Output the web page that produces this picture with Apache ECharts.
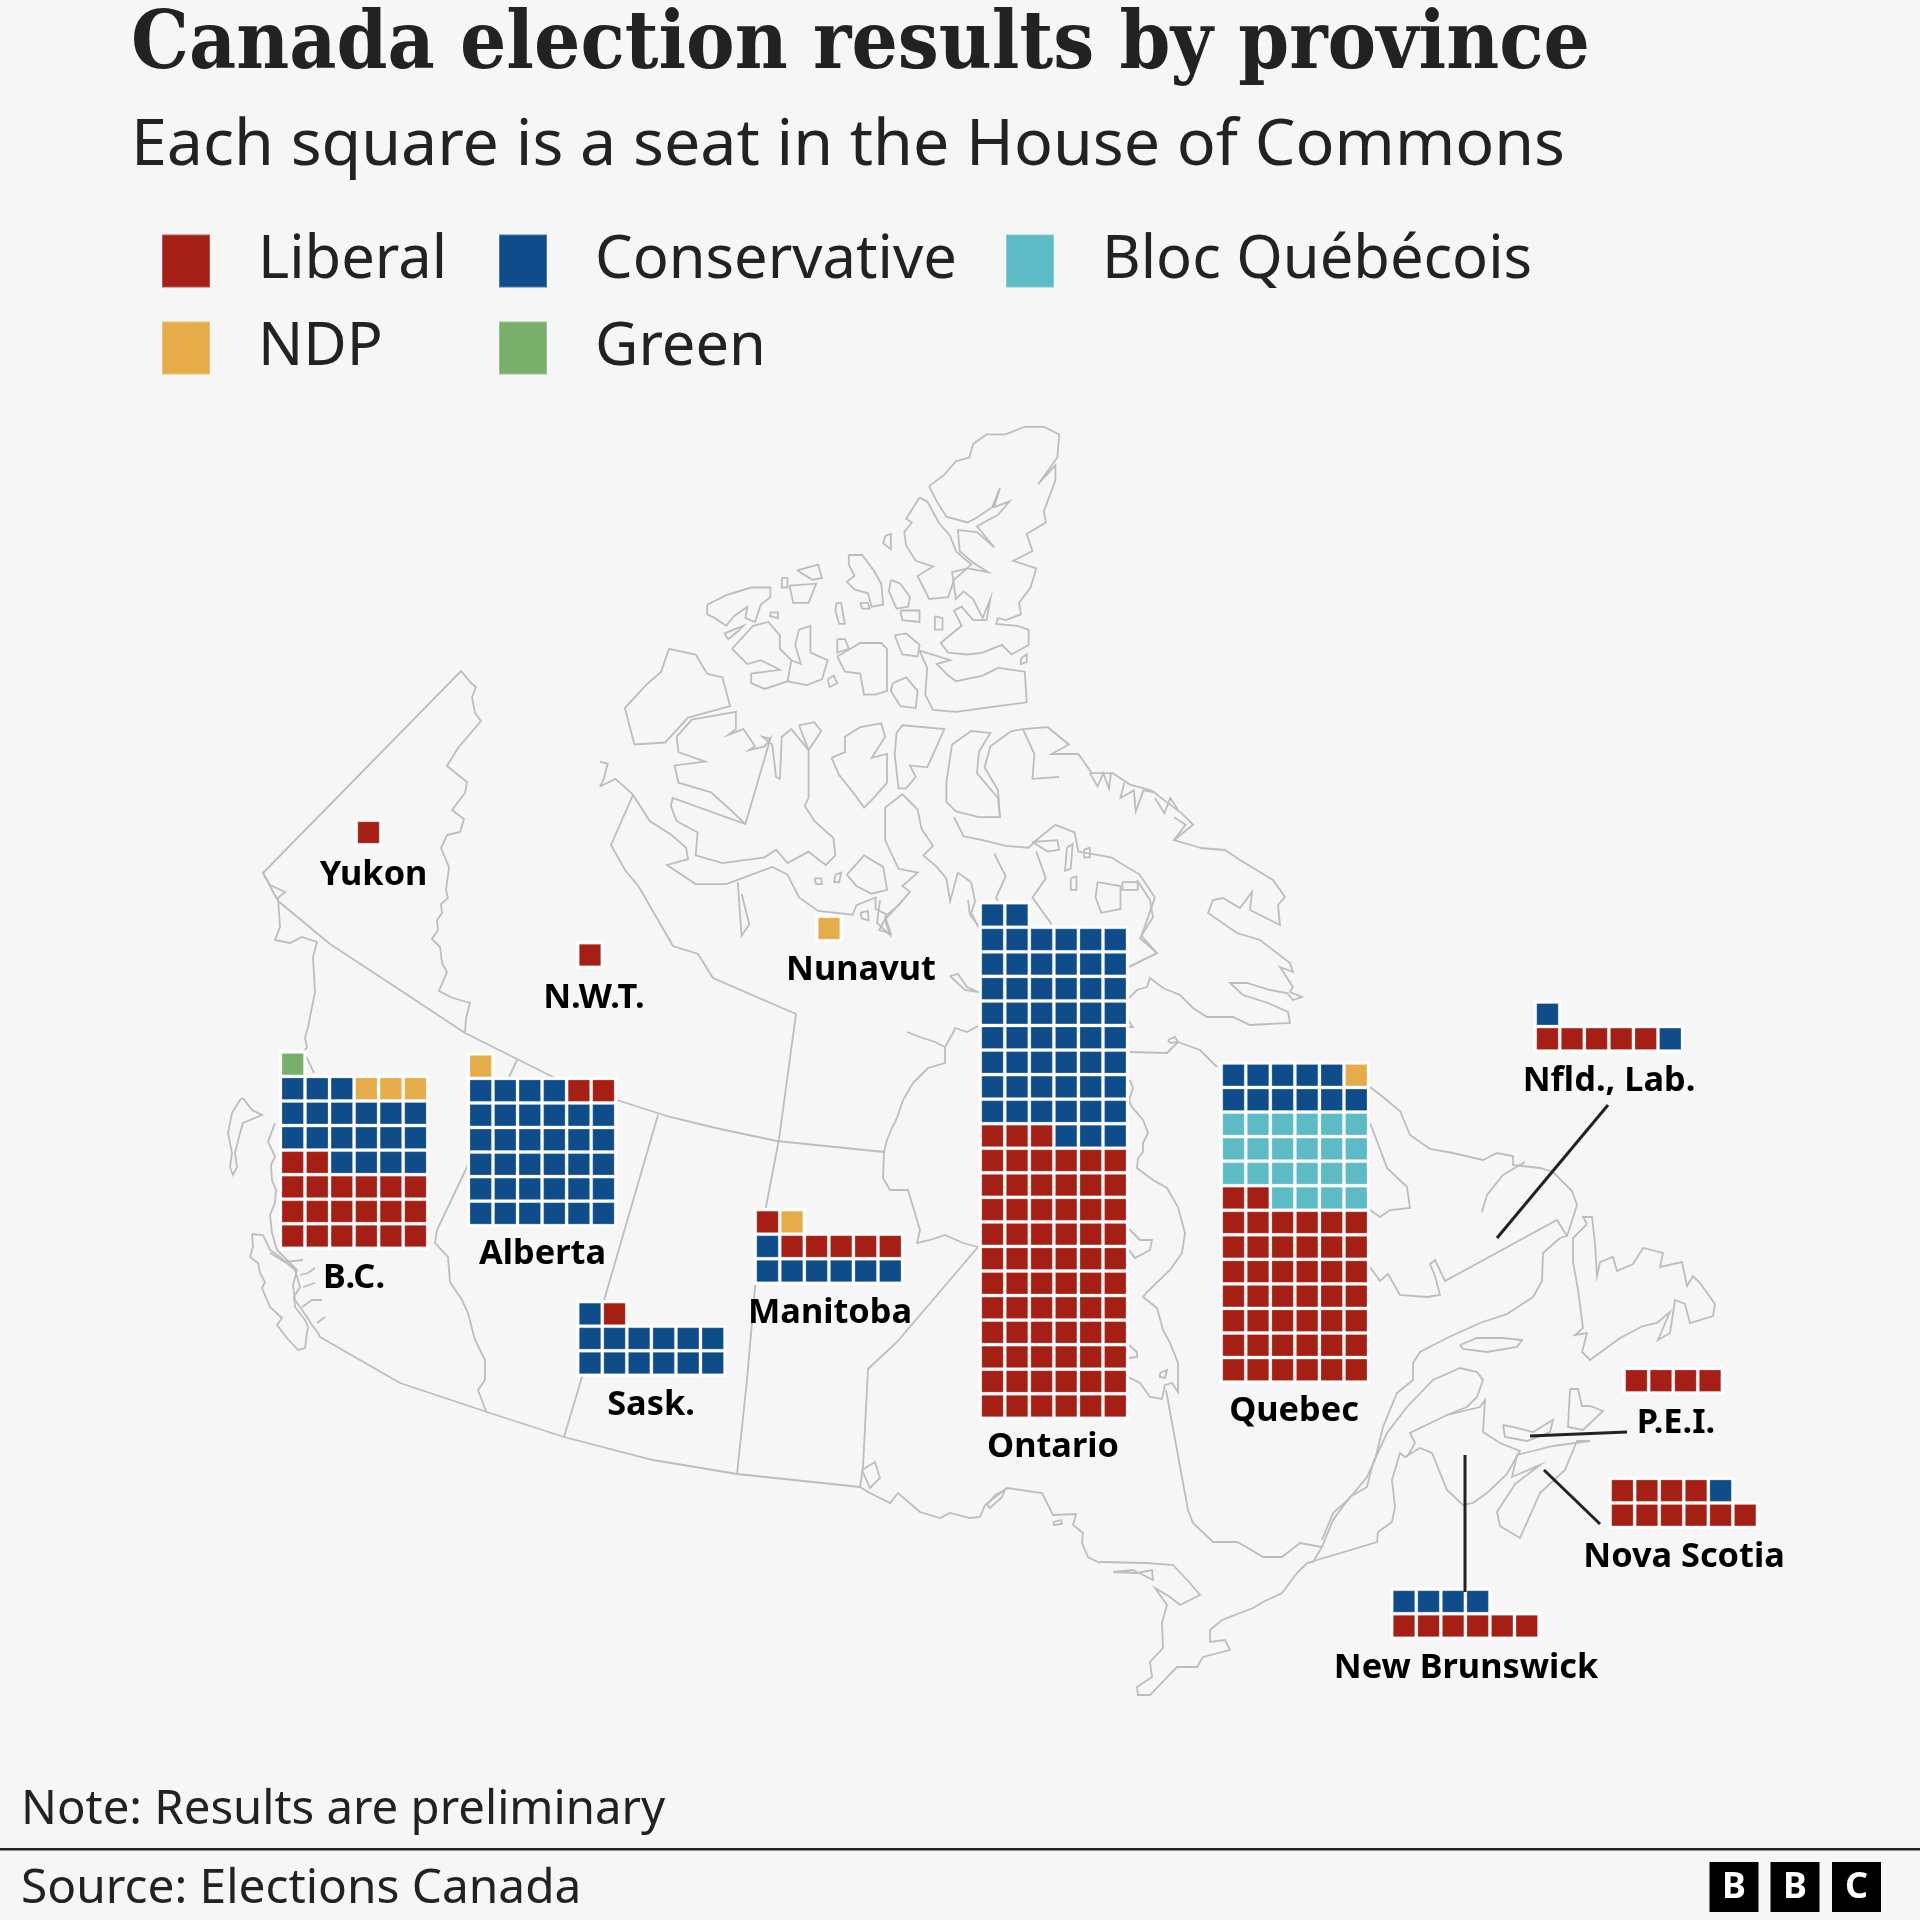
<!DOCTYPE html>
<html>
<head>
<meta charset="utf-8">
<title>Canada election results by province</title>
<script src="https://cdn.jsdelivr.net/npm/echarts@6/dist/echarts.min.js"></script>
<style>
  html, body { margin: 0; padding: 0; background: #f6f6f6; }
  #chart { width: 1920px; height: 1920px; }
</style>
</head>
<body>
<div id="chart"></div>
<script>
// seats per province
const provinces = ['Yukon', 'N.W.T.', 'Nunavut', 'B.C.', 'Alberta', 'Sask.', 'Manitoba', 'Ontario', 'Quebec', 'Nfld., Lab.', 'P.E.I.', 'Nova Scotia', 'New Brunswick'];
const liberal = [1, 1, 0, 20, 2, 1, 6, 69, 44, 5, 4, 10, 6];
const conservative = [0, 0, 0, 19, 34, 13, 7, 53, 11, 2, 0, 1, 4];
const bloc = [0, 0, 0, 0, 0, 0, 0, 0, 22, 0, 0, 0, 0];
const ndp = [0, 0, 1, 3, 1, 0, 1, 0, 1, 0, 0, 0, 0];
const green = [0, 0, 0, 1, 0, 0, 0, 0, 0, 0, 0, 0, 0];

const partyNames = ['Liberal', 'Conservative', 'Bloc Québécois', 'NDP', 'Green'];
const partySeats = [liberal, conservative, bloc, ndp, green];
const partyColors = ['#a61f14', '#0f4d8a', '#5dbbc6', '#e6ac4a', '#78af6b'];

// centre of the bottom-left square of each waffle, same order as provinces
const anchorX = [368.5, 590, 829, 292.7, 480.7, 590, 767.5, 992.5, 1233.5, 1547.5, 1636.4, 1622.4, 1404];
const anchorY = [832.5, 955, 928.5, 1236, 1213.4, 1363, 1271, 1406, 1369.8, 1038.8, 1380.7, 1515.2, 1626];
const labelX = [373.5, 594, 861, 354, 542.5, 651, 830, 1053, 1294, 1609, 1676, 1684, 1466];
const labelY = [875, 998.5, 970, 1278, 1254, 1405, 1313, 1447, 1411, 1081, 1423.5, 1557, 1668];
const PITCH = 24.55;
const COLUMNS = 6;

// leader lines from label to province
const leaders = [
  [[1608, 1105], [1497, 1238]],
  [[1627, 1432], [1530, 1436]],
  [[1600, 1524], [1544, 1470]],
  [[1465, 1455], [1465, 1592]]
];

// base map
const borders = [
  // yukon, alaska, nwt
  [[278, 901], [263, 873], [461, 671], [471, 683], [476, 687], [472, 697], [475, 713], [481, 721], [458, 748], [447, 766], [467, 782], [465, 793], [452, 810], [464, 819], [460, 832], [447, 835], [441, 848], [449, 867], [446, 890], [448, 898], [441, 904], [442, 913], [437, 920], [438, 930], [432, 939], [440, 947], [442, 963], [447, 972], [439, 991], [453, 998], [470, 1003], [466, 1018], [465, 1033]],
  // 60th parallel
  [[278, 901], [330, 944], [400, 990], [465, 1033], [553, 1077], [617, 1100], [670, 1117], [720, 1129], [777, 1141], [884, 1152]],
  // panhandle and bc coast
  [[263, 873], [270, 885], [285, 892], [278, 898], [280, 927], [275, 940], [290, 943], [302, 937], [317, 942], [313, 957], [315, 992], [308, 1027], [305, 1038], [307, 1047], [303, 1053], [307, 1058], [314, 1073]],
  [[275, 1123], [268, 1142], [272, 1150], [275, 1157], [271, 1165], [272, 1180], [276, 1190], [275, 1203], [270, 1215], [272, 1233], [277, 1250], [287, 1260], [297, 1270], [293, 1285], [295, 1300], [307, 1317], [312, 1325], [318, 1333], [320, 1337]],
  [[270, 1253], [285, 1262], [303, 1260]],
  [[300, 1275], [308, 1273], [315, 1268]],
  [[303, 1287], [315, 1283]],
  [[302, 1307], [312, 1300], [322, 1300]],
  [[317, 1323], [325, 1317]],
  // vancouver island, haida gwaii
  [[252, 1234], [253, 1247], [250, 1257], [258, 1263], [260, 1273], [265, 1282], [262, 1288], [270, 1307], [282, 1318], [277, 1325], [287, 1338], [298, 1350], [305, 1348], [307, 1333], [308, 1327], [305, 1320], [295, 1307], [294, 1297], [300, 1287], [295, 1270], [280, 1257], [270, 1250], [263, 1235], [252, 1234]],
  [[243, 1098], [240, 1100], [232, 1113], [228, 1133], [232, 1153], [230, 1167], [233, 1175], [237, 1167], [235, 1153], [240, 1133], [243, 1123], [262, 1115], [252, 1110], [243, 1098]],
  // bc-alberta
  [[517, 1060], [467, 1167], [437, 1230], [435, 1243], [448, 1257], [450, 1282], [462, 1300], [468, 1313], [475, 1340], [485, 1360], [485, 1380], [478, 1390], [486, 1411]],
  // 49th parallel
  [[320, 1337], [400, 1383], [487, 1412], [564, 1437], [653, 1460], [737, 1474], [860, 1487]],
  // alberta-sask, sask-manitoba
  [[658, 1115], [605, 1297], [582, 1377], [564, 1437]],
  [[779, 1139], [766, 1207], [755, 1287], [747, 1380], [737, 1474]],
  // nwt-nunavut
  [[633, 795], [611, 845], [625, 870], [639, 887], [673, 946], [698, 954], [713, 978], [796, 1014], [779, 1139]],
  // manitoba-ontario, hudson bay west
  [[978, 1247], [897, 1342], [868, 1369], [863, 1467], [860, 1487]],
  [[978, 1247], [963, 1243], [945, 1235], [930, 1240], [917, 1243], [920, 1230], [908, 1190], [890, 1190], [883, 1178], [884, 1152], [887, 1140], [892, 1128], [897, 1118], [903, 1100], [913, 1083], [928, 1068], [945, 1063], [945, 1047], [935, 1042], [920, 1037], [907, 1032]],
  [[945, 1047], [953, 1033], [955, 1028], [967, 1032], [978, 1026]],
  [[950, 976], [958, 974], [967, 987], [978, 992], [965, 990], [950, 976]],
  [[880, 900], [877, 923], [890, 935], [885, 920], [903, 900]],
  [[968, 900], [970, 915], [978, 925]],
  // james bay
  [[1129, 1100], [1132, 1107], [1143, 1120], [1148, 1133], [1143, 1143], [1143, 1152], [1138, 1158], [1137, 1168], [1153, 1180], [1167, 1188], [1178, 1207], [1185, 1233], [1182, 1253], [1170, 1270], [1147, 1292], [1143, 1297], [1157, 1308], [1163, 1330], [1170, 1343], [1178, 1363], [1178, 1392], [1172, 1383], [1165, 1385], [1162, 1399], [1150, 1397], [1140, 1383], [1128, 1377]],
  [[1129, 1345], [1137, 1352], [1137, 1357], [1129, 1358]],
  [[1160, 1373], [1167, 1370], [1165, 1378], [1160, 1377], [1160, 1373]],
  [[1129, 1229], [1140, 1240], [1152, 1240], [1150, 1250], [1135, 1258], [1129, 1250]],
  // quebec-ontario and st lawrence south
  [[1166, 1390], [1188, 1510], [1193, 1523], [1213, 1542], [1237, 1542], [1248, 1548], [1263, 1557], [1282, 1557], [1300, 1543], [1322, 1547], [1313, 1562], [1307, 1563], [1377, 1542], [1378, 1532], [1392, 1522], [1395, 1507], [1392, 1480], [1400, 1453], [1405, 1457], [1420, 1448], [1432, 1453], [1447, 1490], [1463, 1505], [1473, 1503], [1487, 1493], [1507, 1474], [1520, 1451], [1500, 1443], [1483, 1432], [1485, 1400], [1480, 1407], [1447, 1415], [1410, 1433], [1415, 1443], [1407, 1457]],
  [[1322, 1547], [1333, 1520], [1350, 1497], [1367, 1487], [1373, 1463], [1387, 1433], [1407, 1407], [1433, 1380], [1460, 1368], [1477, 1372], [1483, 1380], [1477, 1397], [1467, 1407], [1447, 1415]],
  [[1322, 1540], [1333, 1513], [1348, 1500], [1367, 1477], [1375, 1460], [1383, 1427], [1397, 1393], [1413, 1380], [1413, 1363], [1420, 1352], [1447, 1338], [1480, 1323], [1507, 1314], [1533, 1297], [1542, 1281], [1543, 1253], [1560, 1238], [1567, 1236], [1557, 1220], [1445, 1281], [1435, 1260], [1430, 1264], [1435, 1276], [1440, 1295], [1427, 1297], [1400, 1295], [1388, 1274], [1380, 1281], [1370, 1267]],
  // labrador
  [[1567, 1236], [1577, 1205], [1572, 1191], [1553, 1172], [1540, 1168], [1513, 1165], [1513, 1156], [1497, 1153], [1483, 1160], [1453, 1153], [1430, 1149], [1410, 1135], [1400, 1111], [1383, 1097], [1370, 1087]],
  [[1370, 1123], [1380, 1149], [1387, 1168], [1407, 1187], [1410, 1208], [1390, 1210], [1380, 1217], [1370, 1210]],
  [[1482, 1212], [1487, 1195], [1503, 1175], [1525, 1162]],
  // anticosti, newfoundland, pei, cape breton, nova scotia
  [[1460, 1345], [1477, 1338], [1503, 1338], [1522, 1340], [1517, 1347], [1487, 1352], [1463, 1349], [1460, 1345]],
  [[1587, 1224], [1573, 1238], [1573, 1262], [1578, 1290], [1583, 1328], [1575, 1335], [1587, 1333], [1582, 1352], [1590, 1360], [1620, 1338], [1643, 1326], [1657, 1323], [1670, 1312], [1658, 1340], [1670, 1333], [1675, 1300], [1685, 1304], [1690, 1323], [1713, 1316], [1715, 1304], [1700, 1283], [1693, 1276], [1687, 1286], [1682, 1262], [1660, 1267], [1663, 1253], [1643, 1248], [1633, 1264], [1617, 1271], [1613, 1257], [1600, 1262], [1597, 1276], [1595, 1243], [1592, 1217], [1583, 1217], [1587, 1224]],
  [[1503, 1425], [1505, 1437], [1527, 1441], [1550, 1432], [1553, 1420], [1533, 1432], [1513, 1427], [1503, 1425]],
  [[1570, 1389], [1568, 1427], [1583, 1430], [1603, 1411], [1590, 1406], [1582, 1406], [1578, 1389], [1570, 1389]],
  [[1590, 1441], [1577, 1441], [1565, 1470], [1540, 1493], [1520, 1538], [1500, 1526], [1497, 1512], [1515, 1484], [1540, 1465], [1512, 1477], [1517, 1455], [1533, 1451], [1553, 1446], [1590, 1441]],
  // southern ontario
  [[1100, 1563], [1088, 1557], [1082, 1543], [1083, 1533], [1073, 1525], [1076, 1514], [1053, 1515], [1042, 1493], [1007, 1488], [985, 1505], [980, 1517], [970, 1518], [950, 1513], [940, 1518], [920, 1512], [898, 1493], [890, 1503], [870, 1493], [860, 1487]],
  [[1100, 1562], [1147, 1563], [1173, 1565], [1190, 1583], [1200, 1595], [1180, 1605], [1170, 1597], [1155, 1588], [1167, 1605], [1162, 1623], [1163, 1648], [1150, 1662], [1152, 1677], [1137, 1687], [1138, 1695], [1150, 1695], [1177, 1667], [1197, 1667], [1203, 1657], [1230, 1650], [1225, 1640], [1210, 1642], [1210, 1630], [1222, 1620], [1253, 1608], [1263, 1602], [1282, 1593], [1297, 1573], [1307, 1563]],
  [[1113, 1572], [1133, 1570], [1153, 1580], [1152, 1570], [1137, 1573], [1113, 1572]],
  [[1053, 1522], [1061, 1520], [1062, 1524], [1054, 1525], [1053, 1522]],
  [[987, 1505], [995, 1495], [1005, 1490], [1002, 1497], [990, 1508], [987, 1505]],
  [[862, 1470], [875, 1462], [880, 1478], [870, 1488], [862, 1470]],
  // ungava and foxe
  [[1129, 998], [1137, 990], [1147, 987], [1150, 978], [1163, 988], [1180, 995], [1193, 1008], [1207, 1017], [1233, 1017], [1250, 1025], [1290, 1023], [1288, 1012], [1268, 1003], [1243, 995], [1230, 983], [1247, 983], [1270, 990], [1287, 993], [1293, 1000], [1302, 997], [1290, 992], [1293, 987], [1280, 967], [1293, 972], [1290, 963], [1260, 940], [1237, 933], [1208, 913], [1213, 900], [1223, 898], [1240, 908], [1252, 892], [1250, 910], [1280, 925], [1278, 905], [1285, 897], [1273, 880], [1240, 860], [1225, 850], [1200, 848]],
  [[1130, 1052], [1167, 1053], [1178, 1042], [1200, 1050], [1217, 1067]],
  [[1168, 1040], [1175, 1037], [1178, 1042], [1170, 1043], [1168, 1040]],
  [[1129, 967], [1157, 953], [1140, 938], [1153, 917], [1150, 900], [1137, 880]],
  [[1128, 1020], [1133, 1027], [1128, 1027]],
  [[1130, 1080], [1133, 1088], [1129, 1100]]
];

// arctic islands traced in crop pixels of the 600,400 crop (2.613x)
const arcticCrop = [
  [[860, 225], [900, 195], [930, 160], [965, 150], [975, 115], [1010, 90], [1060, 90], [1110, 70], [1160, 70], [1200, 90], [1195, 150], [1145, 220], [1190, 170], [1190, 210], [1160, 290], [1165, 320], [1115, 350], [1130, 395], [1080, 420], [1140, 440], [1125, 490], [1095, 530], [1100, 560], [1060, 575], [1040, 570], [1035, 585], [1090, 590], [1120, 600], [1120, 640], [1075, 665], [1050, 640], [1000, 660], [960, 665], [910, 660], [890, 635], [920, 610], [945, 590], [925, 550], [945, 540], [975, 575], [1010, 575], [1020, 520], [1000, 570], [975, 520], [950, 500], [930, 520], [920, 450], [960, 440], [1015, 450], [975, 425], [940, 395], [935, 340], [985, 345], [1030, 385], [985, 330], [1040, 300], [1070, 265], [1030, 280], [1045, 230], [1025, 280], [980, 310], [960, 320], [905, 305], [880, 265], [860, 225]],
  [[835, 255], [855, 265], [885, 320], [915, 355], [930, 395], [970, 430], [925, 470], [910, 515], [860, 520], [830, 460], [870, 435], [825, 420], [800, 380], [795, 345], [815, 320], [800, 310], [835, 255]],
  [[745, 355], [760, 350], [760, 390], [740, 375], [745, 355]],
  [[650, 405], [685, 405], [715, 445], [735, 480], [740, 535], [710, 540], [700, 505], [665, 495], [645, 475], [665, 460], [650, 430], [650, 405]],
  [[760, 470], [785, 480], [810, 515], [805, 540], [775, 545], [755, 500], [760, 470]],
  [[680, 530], [700, 530], [705, 545], [685, 545], [680, 530]],
  [[618, 530], [630, 530], [640, 585], [625, 585], [615, 550], [618, 530]],
  [[515, 445], [570, 430], [580, 465], [555, 470], [515, 445]],
  [[475, 465], [490, 465], [490, 490], [475, 490], [475, 465]],
  [[495, 485], [565, 480], [545, 530], [505, 530], [495, 485]],
  [[280, 535], [330, 510], [395, 490], [445, 490], [445, 515], [420, 535], [405, 580], [380, 570], [385, 540], [350, 565], [330, 590], [300, 570], [280, 560], [280, 535]],
  [[325, 610], [375, 590], [360, 605], [335, 625], [325, 610]],
  [[445, 555], [465, 555], [465, 570], [445, 565], [445, 555]],
  [[345, 650], [400, 590], [440, 580], [470, 615], [470, 650], [500, 680], [525, 690], [510, 640], [520, 600], [550, 590], [550, 660], [595, 680], [580, 730], [540, 745], [490, 735], [430, 755], [395, 740], [395, 715], [470, 705], [420, 680], [385, 690], [345, 650]],
  [[500, 680], [490, 735]],
  [[595, 730], [610, 720], [620, 740], [600, 750], [595, 730]],
  [[620, 625], [640, 625], [650, 650], [620, 660], [620, 625]],
  [[620, 670], [680, 635], [735, 635], [750, 650], [750, 760], [720, 770], [690, 770], [680, 715], [640, 710], [625, 680], [620, 670]],
  [[770, 615], [800, 610], [835, 640], [830, 670], [790, 665], [770, 615]],
  [[785, 550], [835, 550], [835, 580], [790, 575], [785, 550]],
  [[875, 565], [895, 570], [895, 600], [875, 600], [875, 565]],
  [[835, 655], [915, 680], [880, 690], [910, 720], [930, 735], [1000, 720], [1040, 700], [1110, 710], [1115, 790], [1040, 800], [930, 815], [870, 810], [850, 770], [855, 700], [835, 655]],
  [[765, 740], [800, 725], [830, 760], [825, 805], [785, 800], [760, 760], [765, 740]],
  [[1100, 675], [1115, 665], [1115, 685], [1100, 690], [1100, 675]],
  [[180, 650], [250, 665], [280, 715], [320, 725], [340, 800], [230, 830], [170, 895], [90, 900], [65, 805], [120, 745], [160, 710], [180, 650]],
  // victoria island
  [[200, 880], [240, 835], [355, 815], [355, 860], [335, 875], [375, 860], [405, 905], [390, 915], [430, 905], [445, 885], [380, 1108], [190, 1040], [185, 1060], [200, 1100], [255, 1130], [250, 1190], [320, 1210], [430, 1195], [460, 1175], [490, 1210], [545, 1180], [570, 1200], [590, 1215], [615, 1190], [610, 1145], [560, 1100], [535, 1060], [545, 1040], [545, 915], [500, 860], [475, 880], [470, 990], [460, 985], [450, 900], [425, 880], [445, 885]],
  [[200, 880], [205, 920], [275, 945], [195, 955], [205, 1000], [290, 1025], [340, 1070], [380, 1108]],
  [[520, 850], [560, 842], [578, 865], [545, 915], [520, 850]],
  [[605, 935], [640, 920], [640, 880], [680, 855], [735, 845], [745, 880], [710, 935], [750, 925], [750, 1000], [715, 1040], [690, 1065], [665, 1030], [625, 980], [605, 935]],
  [[775, 870], [790, 850], [900, 860], [855, 960], [810, 955], [825, 985], [800, 1015], [780, 1015], [770, 925], [775, 870]],
  [[645, 1240], [690, 1190], [740, 1220], [750, 1280], [710, 1290], [670, 1270], [645, 1240]],
  // mainland arctic coast
  [[0, 1010], [40, 990], [85, 1030], [130, 1100], [185, 1135], [225, 1170], [230, 1200], [175, 1215], [250, 1265], [330, 1265], [370, 1250], [450, 1220], [490, 1240], [520, 1300], [570, 1335], [660, 1345], [670, 1320], [720, 1300], [720, 1330], [750, 1345], [730, 1385], [760, 1395], [745, 1350], [780, 1320], [810, 1285], [790, 1270], [830, 1235], [780, 1225], [745, 1150], [745, 1065], [790, 1030], [830, 1070], [840, 1120], [870, 1165], [845, 1190], [880, 1220], [905, 1250], [915, 1310], [935, 1235], [970, 1260], [980, 1310], [970, 1340], [990, 1380]],
  [[360, 1260], [370, 1400], [390, 1370], [370, 1290]],
  [[0, 945], [20, 950], [10, 990], [0, 1010]],
  [[905, 1000], [920, 900], [970, 865], [1020, 870], [990, 920], [985, 975], [1040, 1040], [1045, 1090], [990, 1090], [930, 1075], [905, 1050], [905, 1000]],
  [[1105, 860], [1170, 855], [1225, 900], [1180, 925], [1250, 925], [1285, 975], [1340, 975], [1385, 1005], [1440, 1020], [1520, 1080], [1550, 1110], [1500, 1150], [1568, 1170]],
  [[1105, 860], [1075, 865], [1020, 905], [1005, 960], [1040, 1020], [1045, 1090]],
  [[1105, 860], [1135, 925], [1130, 990], [1200, 985]],
  [[925, 1090], [950, 1140], [1000, 1150], [1060, 1165], [1120, 1170], [1140, 1150], [1190, 1110], [1240, 1130], [1250, 1180], [1335, 1195], [1410, 1240], [1450, 1300], [1415, 1400], [1455, 1445], [1385, 1480]],
  [[1030, 1185], [1060, 1245], [1035, 1300], [1040, 1310]],
  [[1140, 1180], [1165, 1250], [1130, 1300], [1180, 1370]],
  [[1300, 1260], [1360, 1270], [1360, 1330], [1310, 1340], [1295, 1300], [1300, 1260]],
  [[1365, 1260], [1405, 1260], [1405, 1280], [1365, 1280], [1365, 1260]],
  // small fjords and islands
  [[1280, 975], [1300, 1010], [1315, 975], [1330, 1015], [1335, 975]],
  [[1370, 1000], [1360, 1040], [1395, 1020], [1400, 1075], [1420, 1020], [1450, 1025]],
  [[1450, 1040], [1475, 1080], [1490, 1040], [1510, 1070]],
  [[1500, 1090], [1530, 1110], [1500, 1150]],
  [[1220, 1170], [1235, 1160], [1230, 1225], [1215, 1230], [1220, 1170]],
  [[1265, 1175], [1280, 1170], [1280, 1195], [1265, 1195], [1265, 1175]],
  [[1230, 1250], [1245, 1245], [1245, 1280], [1230, 1280], [1230, 1250]],
  [[1130, 1155], [1195, 1150], [1200, 1175], [1170, 1180], [1130, 1155]],
  [[560, 1250], [578, 1250], [580, 1265], [565, 1265], [560, 1250]],
  [[615, 1240], [630, 1235], [625, 1260], [612, 1260], [615, 1240]],
  [[680, 1340], [700, 1335], [702, 1360], [685, 1355], [680, 1340]]
];

// squares of one province, biggest party first, filled from bottom-left
function cellsOf(p) {
  const order = partyNames.map((_, i) => i).sort((a, b) => partySeats[b][p] - partySeats[a][p]);
  const cells = partyNames.map(() => []);
  let n = 0;
  order.forEach(function (party) {
    for (let s = 0; s < partySeats[party][p]; s++) {
      cells[party].push([anchorX[p] + (n % COLUMNS) * PITCH, anchorY[p] - Math.floor(n / COLUMNS) * PITCH]);
      n++;
    }
  });
  return cells;
}

const perProvince = provinces.map((_, p) => cellsOf(p));
const partyCells = partyNames.map((_, i) => perProvince.flatMap(c => c[i]));
const arctic = arcticCrop.map(l => l.map(([x, y]) => [600 + x / 2.613, 400 + y / 2.613]));

const legendLeft = [161, 498, 1005, 161, 498];
const legendTop = [231, 231, 231, 318, 318];
const SANS = '"Noto Sans", sans-serif';

const chart = echarts.init(document.getElementById('chart'), null, { renderer: 'canvas' });
chart.setOption({
  animation: false,
  backgroundColor: '#f6f6f6',
  grid: { left: 0, right: 0, top: 0, bottom: 0 },
  xAxis: { type: 'value', min: 0, max: 1920, show: false },
  yAxis: { type: 'value', min: 0, max: 1920, inverse: true, show: false },
  title: [
    { text: 'Canada election results by province', left: 126, top: 1, textStyle: { fontFamily: '"DejaVu Serif Condensed", "DejaVu Serif", serif', fontWeight: 'bold', fontSize: 81, color: '#222222' } },
    { text: 'Each square is a seat in the House of Commons', left: 126, top: 109, textStyle: { fontFamily: SANS, fontWeight: 'normal', fontSize: 64.5, color: '#222222' } },
    { text: 'Note: Results are preliminary', left: 16, top: 1782, textStyle: { fontFamily: SANS, fontWeight: 'normal', fontSize: 47.3, color: '#222222' } },
    { text: 'Source: Elections Canada', left: 16, top: 1860, textStyle: { fontFamily: SANS, fontWeight: 'normal', fontSize: 47.8, color: '#222222' } }
  ],
  legend: partyNames.map((name, i) => ({
    data: [{ name: name, icon: 'rect' }],
    left: legendLeft[i], top: legendTop[i],
    padding: 0, itemWidth: 48, itemHeight: 53, selectedMode: false,
    textStyle: { fontFamily: SANS, fontSize: 59.6, color: '#222222', padding: [12, 0, 0, 43] }
  })),
  series: [
    {
      type: 'lines', coordinateSystem: 'cartesian2d', polyline: true, silent: true, z: 1,
      lineStyle: { color: '#bdbdbd', width: 1.8, opacity: 1, curveness: 0 },
      data: borders.concat(arctic).map(l => ({ coords: l }))
    },
    {
      // white halo behind the squares
      type: 'scatter', symbol: 'rect', symbolSize: 27.5, silent: true, z: 2,
      itemStyle: { color: '#ffffff', opacity: 1 },
      data: partyCells.flat()
    },
    ...partyNames.map((name, i) => ({
      name: name, type: 'scatter', symbol: 'rect', symbolSize: 21.5, silent: true, z: 3,
      itemStyle: { color: partyColors[i], opacity: 1, borderColor: 'rgba(255,255,255,0.25)', borderWidth: 1 },
      data: partyCells[i]
    })),
    {
      type: 'lines', coordinateSystem: 'cartesian2d', polyline: true, silent: true, z: 4,
      lineStyle: { color: '#222222', width: 3, opacity: 1, curveness: 0 },
      data: leaders.map(l => ({ coords: l }))
    },
    {
      type: 'scatter', symbolSize: 0, silent: true, z: 5,
      itemStyle: { opacity: 1 },
      label: { show: true, position: 'inside', formatter: '{b}', fontFamily: SANS, fontWeight: 'bold', fontSize: 34.3, color: '#000000', opacity: 1 },
      data: provinces.map((name, p) => ({ name: name, value: [labelX[p], labelY[p]] }))
    }
  ],
  graphic: [
    { type: 'rect', shape: { x: 0, y: 1848, width: 1920, height: 2.5 }, style: { fill: '#222222' } },
    ...[1709.5, 1770.5, 1832].map((x, i) => ({
      type: 'group', children: [
        { type: 'rect', shape: { x: x, y: 1862, width: 49, height: 50 }, style: { fill: '#000000' } },
        { type: 'text', x: x + 24.5, y: 1888, style: { text: 'BBC'[i], fill: '#ffffff', font: 'bold 36px ' + SANS, textAlign: 'center', textVerticalAlign: 'middle' } }
      ]
    }))
  ]
});
</script>
</body>
</html>
